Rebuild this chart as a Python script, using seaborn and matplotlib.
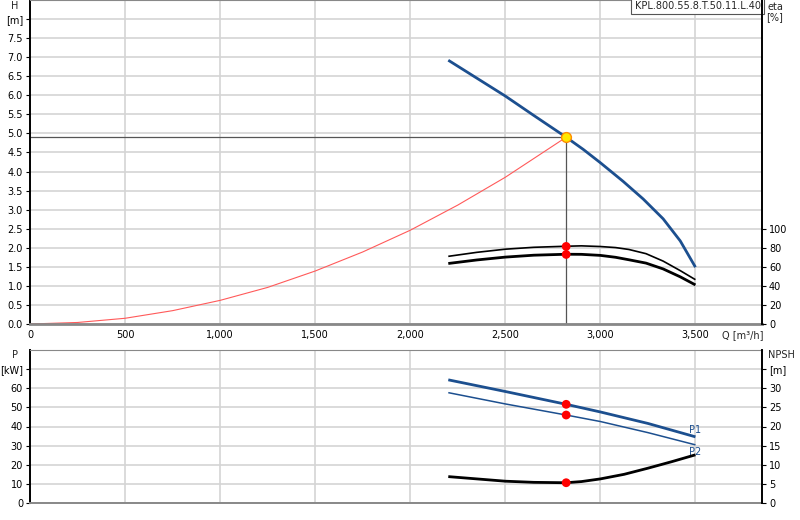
import numpy as np
import pandas as pd
import matplotlib
matplotlib.use("Agg")
import matplotlib.pyplot as plt
import seaborn as sns

# ---------------- data ----------------
# pump head curve H(Q)
q_h = [2200, 2350, 2500, 2650, 2820, 2910, 3000, 3120, 3225, 3330, 3420, 3500]
h_pump = [6.92, 6.45, 5.98, 5.47, 4.90, 4.58, 4.23, 3.74, 3.28, 2.76, 2.18, 1.49]

# system curve (red)
q_sys = [0, 250, 500, 750, 1000, 1250, 1500, 1750, 2000, 2250, 2500, 2820]
h_sys = [0.0, 0.04, 0.15, 0.35, 0.62, 0.96, 1.39, 1.89, 2.46, 3.12, 3.85, 4.90]

# efficiency curves (eta axis)
q_eta = [2200, 2350, 2500, 2650, 2820, 2900, 3000, 3080, 3150, 3240, 3330, 3420, 3500]
eta_1 = [71.0, 75.2, 78.5, 80.5, 81.6, 82.0, 81.3, 80.2, 78.2, 73.8, 66.0, 56.0, 46.5]
eta_2 = [63.5, 67.2, 70.2, 72.2, 73.2, 73.1, 72.0, 70.0, 67.4, 63.9, 57.8, 49.5, 41.0]

# power P1 / P2 [kW]
q_p = [2200, 2500, 2820, 3000, 3250, 3500]
p1 = [64.4, 58.3, 51.6, 47.6, 41.6, 34.6]
p2 = [57.7, 51.8, 46.0, 42.6, 36.8, 30.4]

# NPSH [m]
q_npsh = [2200, 2350, 2500, 2650, 2820, 2900, 3000, 3125, 3250, 3375, 3500]
npsh = [6.9, 6.3, 5.7, 5.4, 5.3, 5.6, 6.3, 7.5, 9.1, 10.8, 12.6]

# duty point
q_duty = 2820
h_duty = 4.90
eta_duty = [81.4, 73.0]
p_duty = [51.6, 46.0]
npsh_duty = 5.3

x_ticks = [0, 500, 1000, 1500, 2000, 2500, 3000, 3500]
model = "KPL.800.55.8.T.50.11.L.40"

# ---------------- style ----------------
sns.set_style("white")
plt.rcParams['font.family'] = ['DejaVu Sans']
plt.rcParams['font.size'] = 7
plt.rcParams['lines.solid_capstyle'] = 'butt'
plt.rcParams['lines.solid_joinstyle'] = 'round'

blue = "#1c4f8f"
grid_c = "#d4d4d4"
fs = 7

fig = plt.figure(figsize=(8, 5.2), dpi=100)
ax = fig.add_axes([30 / 800, 196 / 520, 732 / 800, 324 / 520])
ax_e = ax.twinx()
axb = fig.add_axes([30 / 800, 17 / 520, 732 / 800, 153 / 520])
axb_n = axb.twinx()

# ---------------- top panel ----------------
ax.set_xlim(0, 3850)
ax.set_ylim(0, 8.5)
ax_e.set_ylim(0, 340)

ax.set_xticks(x_ticks)
ax.set_xticklabels([f"{v:,}" for v in x_ticks])
hy = np.arange(0, 8.01, 0.5)
ax.set_yticks(hy)
ax.set_yticklabels([f"{v:.1f}" for v in hy[:-1]] + ["[m]"])
ax_e.set_yticks([0, 20, 40, 60, 80, 100])
ax.grid(True, color=grid_c, linewidth=1.2)
ax.set_axisbelow(True)

sns.lineplot(x=q_sys, y=h_sys, ax=ax, color="#ff5a5a", linewidth=0.8,
             estimator=None, sort=False)
ax.plot([0, q_duty], [h_duty, h_duty], color="#555555", linewidth=0.9)
ax.plot([q_duty, q_duty], [0, h_duty], color="#555555", linewidth=0.9)
sns.lineplot(x=q_h, y=h_pump, ax=ax, color=blue, linewidth=2,
             estimator=None, sort=False)

sns.lineplot(x=q_eta, y=eta_1, ax=ax_e, color="black", linewidth=1.2,
             estimator=None, sort=False)
sns.lineplot(x=q_eta, y=eta_2, ax=ax_e, color="black", linewidth=2,
             estimator=None, sort=False)
sns.scatterplot(x=[q_duty] * 2, y=eta_duty, ax=ax_e, color="#ff0000",
                s=40, edgecolor="none", zorder=5)
ax.scatter([q_duty], [h_duty], s=50, color="#ffe800", edgecolor="#ff8c00",
           linewidth=1, zorder=6)

for a in (ax, ax_e):
    a.set_xlabel("")
    a.set_ylabel("")
    a.tick_params(axis="both", length=3, width=0.8, labelsize=fs, pad=2,
                  colors="black")
ax.tick_params(axis="x", length=0, pad=4)
ax.spines["left"].set_color("black")
ax.spines["left"].set_linewidth(1.4)
ax.spines["bottom"].set_color("#888888")
ax.spines["bottom"].set_linewidth(2)
ax.spines["top"].set_color("#888888")
ax.spines["right"].set_visible(False)
ax_e.spines["right"].set_color("black")
ax_e.spines["right"].set_linewidth(1.4)
for s in ("left", "top", "bottom"):
    ax_e.spines[s].set_visible(False)

fig.text(15 / 800, 1 - 6 / 520, "H", ha="center", va="center", fontsize=fs)
fig.text(775 / 800, 1 - 7 / 520, "eta", ha="center", va="center", fontsize=fs)
fig.text(775 / 800, 1 - 17 / 520, "[%]", ha="center", va="center", fontsize=fs)
fig.text(722 / 800, 1 - 335 / 520, "Q [m³/h]", ha="left", va="center",
         fontsize=fs)
ax.text(0.9985, 0.998, model, transform=ax.transAxes, ha="right", va="top",
        fontsize=fs,
        bbox=dict(boxstyle="square,pad=0.35", facecolor="white",
                  edgecolor="#555555", linewidth=0.8))

# ---------------- bottom panel ----------------
axb.set_xlim(0, 3850)
axb.set_ylim(0, 80)
axb_n.set_ylim(0, 40)
axb.set_xticks(x_ticks)
axb.set_xticklabels([])
py = np.arange(0, 71, 10)
axb.set_yticks(py)
axb.set_yticklabels([str(v) for v in py[:-1]] + ["[kW]"])
ny = np.arange(0, 36, 5)
axb_n.set_yticks(ny)
axb_n.set_yticklabels([str(v) for v in ny[:-1]] + ["[m]"])
axb.grid(True, color=grid_c, linewidth=1.2)
axb.set_axisbelow(True)

sns.lineplot(x=q_p, y=p1, ax=axb, color=blue, linewidth=2,
             estimator=None, sort=False)
sns.lineplot(x=q_p, y=p2, ax=axb, color=blue, linewidth=1.1,
             estimator=None, sort=False)
sns.lineplot(x=q_npsh, y=npsh, ax=axb_n, color="black", linewidth=2,
             estimator=None, sort=False)
sns.scatterplot(x=[q_duty] * 2, y=p_duty, ax=axb, color="#ff0000",
                s=40, edgecolor="none", zorder=5)
sns.scatterplot(x=[q_duty], y=[npsh_duty], ax=axb_n, color="#ff0000",
                s=40, edgecolor="none", zorder=5)
axb.text(q_p[-1], p1[-1] + 1, "P1", color=blue, fontsize=fs, ha="center",
         va="bottom")
axb.text(q_p[-1], p2[-1] - 1, "P2", color=blue, fontsize=fs, ha="center",
         va="top")

for a in (axb, axb_n):
    a.set_xlabel("")
    a.set_ylabel("")
    a.tick_params(axis="both", length=3, width=0.8, labelsize=fs, pad=2,
                  colors="black")
axb.tick_params(axis="x", length=0)
axb.spines["left"].set_color("black")
axb.spines["left"].set_linewidth(1.4)
axb.spines["bottom"].set_color("#888888")
axb.spines["bottom"].set_linewidth(1.4)
axb.spines["top"].set_color("#888888")
axb.spines["right"].set_visible(False)
axb_n.spines["right"].set_color("black")
axb_n.spines["right"].set_linewidth(1.4)
for s in ("left", "top", "bottom"):
    axb_n.spines[s].set_visible(False)

fig.text(15 / 800, 1 - 355 / 520, "P", ha="center", va="center", fontsize=fs)
fig.text(781 / 800, 1 - 355 / 520, "NPSH", ha="center", va="center",
         fontsize=fs)

fig.savefig("out.png", dpi=100)
